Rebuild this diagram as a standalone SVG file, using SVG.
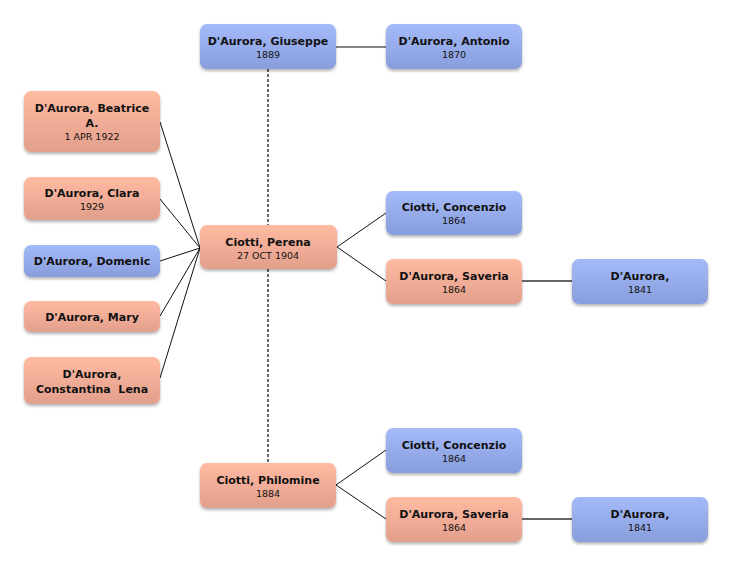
<svg xmlns="http://www.w3.org/2000/svg" width="732" height="566" viewBox="0 0 732 566">
<defs>
<linearGradient id="gb" x1="0" y1="0" x2="0" y2="1"><stop offset="0" stop-color="#a5bbf9"/><stop offset="1" stop-color="#889ddb"/></linearGradient>
<linearGradient id="gs" x1="0" y1="0" x2="0" y2="1"><stop offset="0" stop-color="#ffbaa2"/><stop offset="1" stop-color="#e29f8b"/></linearGradient>
<filter id="sh" x="-10%" y="-20%" width="120%" height="150%"><feGaussianBlur in="SourceAlpha" stdDeviation="1.5"/><feOffset dy="1.5"/><feComponentTransfer><feFuncA type="linear" slope="0.3"/></feComponentTransfer><feMerge><feMergeNode/><feMergeNode in="SourceGraphic"/></feMerge></filter>
<style>
.b{fill:url(#gb);filter:url(#sh)}
.s{fill:url(#gs);filter:url(#sh)}
.n{font-family:"DejaVu Sans",sans-serif;font-weight:bold;font-size:11px;fill:#111;text-anchor:middle}
.d{font-family:"DejaVu Sans",sans-serif;font-size:9.5px;fill:#111;text-anchor:middle}
.c{stroke:#111;stroke-width:1;fill:none}
.m{stroke:#666;stroke-width:2;fill:none}
</style>
</defs>
<rect width="732" height="566" fill="#fff"/>
<g id="connectors">
<line class="m" x1="268" y1="69" x2="268" y2="463" stroke-dasharray="3,2"/>
<line class="c" x1="336" y1="47" x2="386" y2="47" stroke-width="1.3"/>
<polyline class="c" points="160,122 200,248"/>
<polyline class="c" points="160,199 200,248"/>
<polyline class="c" points="160,261 200,248"/>
<polyline class="c" points="160,316 200,248"/>
<polyline class="c" points="160,378 200,248"/>
<polyline class="c" points="386,213 337,247 386,281"/>
<line class="m" x1="522" y1="281" x2="572" y2="281"/>
<polyline class="c" points="386,450 336,485 386,519"/>
<line class="m" x1="522" y1="519" x2="572" y2="519"/>
</g>
<g id="giuseppe"><rect class="b" x="200" y="24" width="136" height="45" rx="7"/><text class="n" x="268" y="45">D'Aurora, Giuseppe</text><text class="d" x="268" y="58">1889</text></g>
<g id="antonio"><rect class="b" x="386" y="24" width="136" height="45" rx="7"/><text class="n" x="454" y="45">D'Aurora, Antonio</text><text class="d" x="454" y="58">1870</text></g>
<g id="beatrice"><rect class="s" x="24" y="91" width="136" height="61" rx="7"/><text class="n" x="92" y="112">D'Aurora, Beatrice</text><text class="n" x="92" y="127">A.</text><text class="d" x="92" y="140">1 APR 1922</text></g>
<g id="clara"><rect class="s" x="24" y="177" width="136" height="43" rx="7"/><text class="n" x="92" y="197">D'Aurora, Clara</text><text class="d" x="92" y="210">1929</text></g>
<g id="domenic"><rect class="b" x="24" y="245" width="136" height="32" rx="7"/><text class="n" x="92" y="265">D'Aurora, Domenic</text></g>
<g id="mary"><rect class="s" x="24" y="301" width="136" height="31" rx="7"/><text class="n" x="92" y="321">D'Aurora, Mary</text></g>
<g id="constantina"><rect class="s" x="24" y="357" width="136" height="47" rx="7"/><text class="n" x="92" y="378">D'Aurora,</text><text class="n" x="92" y="393" xml:space="preserve">Constantina  Lena</text></g>
<g id="perena"><rect class="s" x="200" y="225" width="137" height="44" rx="7"/><text class="n" x="268" y="246">Ciotti, Perena</text><text class="d" x="268" y="259">27 OCT 1904</text></g>
<g id="concenzio1"><rect class="b" x="386" y="191" width="136" height="44" rx="7"/><text class="n" x="454" y="211">Ciotti, Concenzio</text><text class="d" x="454" y="224">1864</text></g>
<g id="saveria1"><rect class="s" x="386" y="259" width="136" height="45" rx="7"/><text class="n" x="454" y="280">D'Aurora, Saveria</text><text class="d" x="454" y="293">1864</text></g>
<g id="daurora1"><rect class="b" x="572" y="259" width="136" height="45" rx="7"/><text class="n" x="640" y="280">D'Aurora,</text><text class="d" x="640" y="293">1841</text></g>
<g id="philomine"><rect class="s" x="200" y="463" width="136" height="45" rx="7"/><text class="n" x="268" y="484">Ciotti, Philomine</text><text class="d" x="268" y="497">1884</text></g>
<g id="concenzio2"><rect class="b" x="386" y="428" width="136" height="45" rx="7"/><text class="n" x="454" y="449">Ciotti, Concenzio</text><text class="d" x="454" y="462">1864</text></g>
<g id="saveria2"><rect class="s" x="386" y="497" width="136" height="45" rx="7"/><text class="n" x="454" y="518">D'Aurora, Saveria</text><text class="d" x="454" y="531">1864</text></g>
<g id="daurora2"><rect class="b" x="572" y="497" width="136" height="45" rx="7"/><text class="n" x="640" y="518">D'Aurora,</text><text class="d" x="640" y="531">1841</text></g>
</svg>
